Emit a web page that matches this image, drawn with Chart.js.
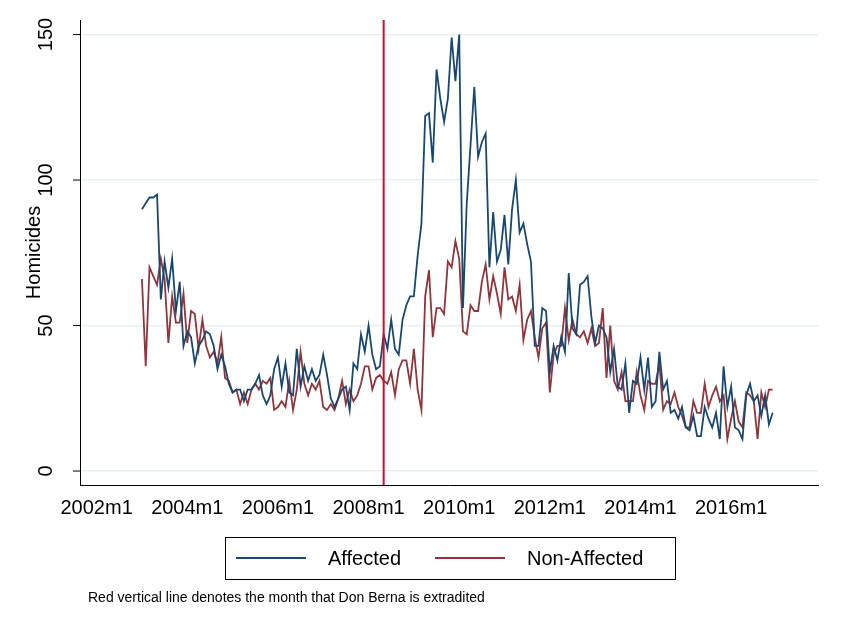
<!DOCTYPE html>
<html>
<head>
<meta charset="utf-8">
<script src="https://cdn.jsdelivr.net/npm/chart.js@4"></script>
<style>
  body { margin: 0; background: #fff; }
  #wrap { position: relative; width: 856px; height: 642px; }
  #note { position: absolute; left: 88px; top: 589px; font: 14px "Liberation Sans", Arial, sans-serif; color: #000; }
</style>
</head>
<body>
<div id="wrap">
  <canvas id="chart" width="856" height="642"></canvas>
  <div id="note">Red vertical line denotes the month that Don Berna is extradited</div>
</div>
<script>
// month index: 0 = 2002m1; series start at 2003m1
const startMonth = 12;
const extraditionMonth = 76; // 2008m5
const xTicks = [0, 24, 48, 72, 96, 120, 144, 168];
const yTicks = [0, 50, 100, 150];
const seriesNames = ["Affected", "Non-Affected"];

const affected = [
  90,92,94,94,95,59,72,63,73,55,65,43,
  48,46,37,43,45,48,47,43,35,40,36,30,27,28,28,24,28,
  28,30,33,26,23,26,35,39,29,37,27,26,42,29,36,31,35,31,33,40,
  33,25,22,25,28,29,21,37,35,47,41,50,40,35,
  36,47,42,52,42,40,52,57,60,60,74,85,122,123,106,138,128,120,128,149,
  134,150,56,92,112,132,108,113,116,70,89,72,76,88,71,90,100,82,85,78,
  72,43,43,56,55,34,43,38,46,41,68,49,47,64,65,67,53,44,50,49,
  46,34,42,29,28,37,20,31,30,39,28,39,22,24,41,
  28,31,20,21,18,22,15,14,19,12,12,22,18,15,20,11,36,22,29,15,
  14,11,26,30,24,26,19,26,16,20
];
const nonAffected = [
  66,36,70,67,64,73,66,44,60,51,51,61,44,55,54,42,52,43,39,41,
  37,46,32,31,27,28,23,27,23,
  28,30,28,31,30,32,21,22,24,22,31,21,28,41,30,26,30,28,31,22,
  21,23,21,25,31,23,28,24,26,30,36,36,28,32,
  33,31,30,34,26,35,38,38,30,42,28,21,60,69,46,56,56,54,72,70,
  79,73,48,47,57,55,55,65,71,59,67,61,54,70,59,60,55,64,45,52,
  55,46,39,49,51,27,40,43,43,56,45,52,47,46,48,44,49,43,44,56,
  32,50,31,28,34,24,24,24,34,26,21,31,30,30,37,
  21,24,23,27,22,19,15,15,24,20,20,30,22,26,29,24,26,11,18,24,
  17,15,27,26,24,11,27,22,28,28
];

const FONT = '"Liberation Sans", Arial, sans-serif';
const BLUE = "#1a476f";
const RED = "#90353b";

function toPoints(arr) {
  return arr.map(function (v, i) { return { x: startMonth + i, y: v }; });
}

const extras = {
  id: "extras",
  afterDraw: function (chart) {
    const ctx = chart.ctx;
    const xs = chart.scales.x, ys = chart.scales.y, area = chart.chartArea;
    ctx.save();
    // extradition line
    const px = xs.getPixelForValue(extraditionMonth);
    ctx.strokeStyle = "#c8102e";
    ctx.lineWidth = 2;
    ctx.beginPath();
    ctx.moveTo(px, area.top);
    ctx.lineTo(px, area.bottom);
    ctx.stroke();
    // rotated y tick labels and tick marks
    ctx.fillStyle = "#000";
    ctx.strokeStyle = "#000";
    ctx.lineWidth = 1;
    ctx.font = "20px " + FONT;
    ctx.textAlign = "center";
    ctx.textBaseline = "middle";
    yTicks.forEach(function (v) {
      const py = ys.getPixelForValue(v);
      ctx.beginPath();
      ctx.moveTo(area.left - 7, py);
      ctx.lineTo(area.left, py);
      ctx.stroke();
      ctx.save();
      ctx.translate(area.left - 34, py);
      ctx.rotate(-Math.PI / 2);
      ctx.fillText(String(v), 0, 0);
      ctx.restore();
    });
    // legend
    ctx.strokeStyle = "#000";
    ctx.lineWidth = 1;
    ctx.strokeRect(225.5, 537.5, 450, 42);
    ctx.textAlign = "left";
    ctx.lineWidth = 2;
    const items = [[236, BLUE], [435, RED]];
    items.forEach(function (it, i) {
      ctx.strokeStyle = it[1];
      ctx.beginPath();
      ctx.moveTo(it[0], 558);
      ctx.lineTo(it[0] + 70, 558);
      ctx.stroke();
      ctx.fillText(seriesNames[i], it[0] + 92, 559);
    });
    ctx.restore();
  }
};

new Chart(document.getElementById("chart"), {
  type: "line",
  data: {
    datasets: [
      { label: seriesNames[0], data: toPoints(affected), borderColor: BLUE, borderWidth: 1.8, pointRadius: 0, tension: 0 },
      { label: seriesNames[1], data: toPoints(nonAffected), borderColor: RED, borderWidth: 1.8, pointRadius: 0, tension: 0 }
    ]
  },
  plugins: [extras],
  options: {
    responsive: false,
    animation: false,
    layout: { padding: { left: 0, right: 38, top: 20, bottom: 112 } },
    plugins: { legend: { display: false }, tooltip: { enabled: false } },
    scales: {
      x: {
        type: "linear",
        min: -4.4,
        max: 191,
        afterBuildTicks: function (s) { s.ticks = xTicks.map(function (v) { return { value: v }; }); },
        afterFit: function (s) { s.height = 45; },
        grid: { display: false, drawTicks: true, tickLength: 7, tickColor: "#000" },
        border: { color: "#000", width: 1 },
        ticks: {
          color: "#000", font: { family: FONT, size: 20 }, maxRotation: 0, padding: 4,
          callback: function (v) { return (2002 + v / 12) + "m1"; }
        }
      },
      y: {
        min: -4.8,
        max: 155,
        afterBuildTicks: function (s) { s.ticks = yTicks.map(function (v) { return { value: v }; }); },
        afterFit: function (s) { s.width = 80; },
        grid: { color: "#e6eff1", lineWidth: 1.5, drawTicks: false },
        border: { color: "#000", width: 1 },
        ticks: { display: false },
        title: { display: true, text: "Homicides", color: "#000", font: { family: FONT, size: 20 }, padding: { top: 22, bottom: 0 } }
      }
    }
  }
});
</script>
</body>
</html>
